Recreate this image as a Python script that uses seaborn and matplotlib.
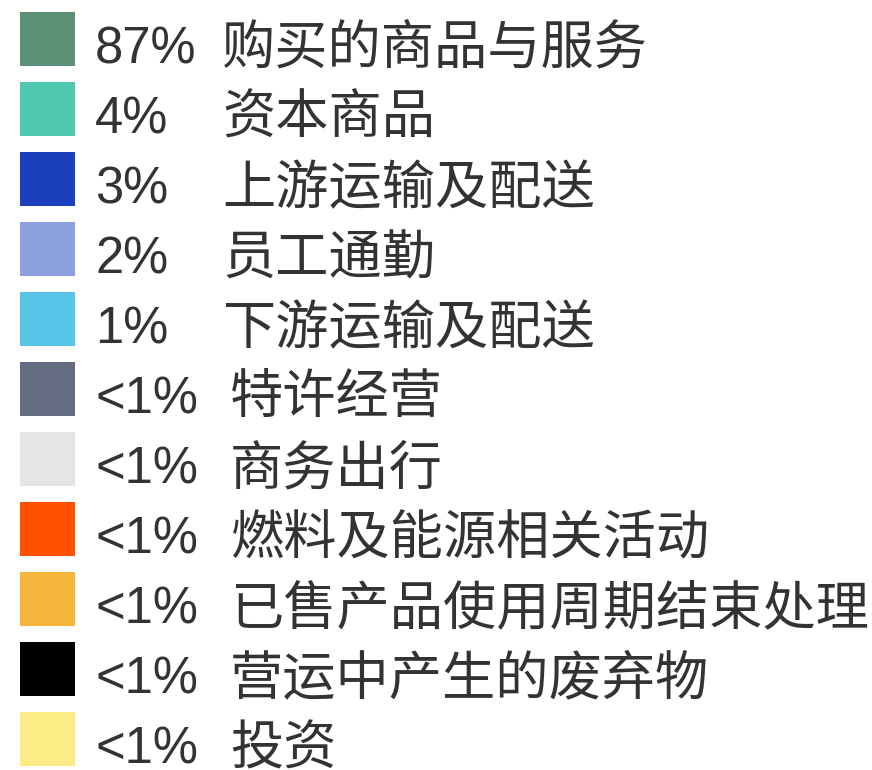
import matplotlib
matplotlib.use("Agg")
import matplotlib.pyplot as plt
import seaborn as sns
import pandas as pd

# ---- data ----
percents = ["87%", "4%", "3%", "2%", "1%", "<1%", "<1%", "<1%", "<1%", "<1%", "<1%"]
categories = ["购买的商品与服务", "资本商品", "上游运输及配送", "员工通勤", "下游运输及配送",
              "特许经营", "商务出行", "燃料及能源相关活动", "已售产品使用周期结束处理",
              "营运中产生的废弃物", "投资"]
colors = ["#5b8f76", "#50c8b0", "#1c3fbe", "#8b9fdf", "#58c5e8", "#646c82",
          "#e5e5e5", "#ff5000", "#f5b63d", "#000000", "#fdec85"]

sns.set_theme(style="white")
plt.rcParams['font.family'] = ['Liberation Sans', 'Noto Sans CJK SC', 'DejaVu Sans']

W, H = 872, 770
fig = plt.figure(figsize=(W / 100, H / 100), dpi=100)
ax = fig.add_axes([0, 0, 1, 1])
ax.set_xlim(0, W)
ax.set_ylim(H, 0)
ax.axis("off")

df = pd.DataFrame({"pct": percents, "cat": categories, "color": colors})
row_h = 70
for i, r in df.iterrows():
    top = 12 + row_h * i
    ax.bar(20, 54, width=55, bottom=top, align="edge", color=r["color"], linewidth=0)
    base = top + 52
    ax.text(95, base, r["pct"], fontsize=36.5, color="#333333", va="baseline", ha="left",
            family=['Liberation Sans', 'Noto Sans CJK SC'])
    lx = 230 if r["pct"].startswith("<") else 222
    ax.text(lx, base, r["cat"], fontsize=38.3, color="#333333", va="baseline", ha="left",
            family=['Noto Sans CJK SC', 'DejaVu Sans'])

fig.savefig("out.png", dpi=100)
